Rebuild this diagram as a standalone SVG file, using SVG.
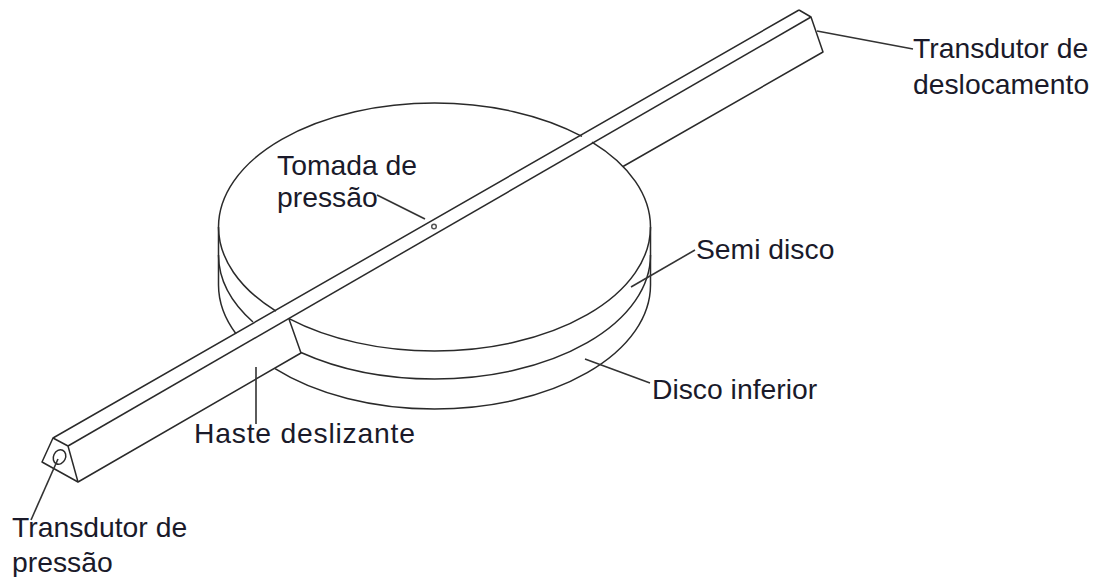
<svg xmlns="http://www.w3.org/2000/svg" width="1097" height="577" viewBox="0 0 1097 577">
<style>
.l{fill:none;stroke:#2a2a2a;stroke-width:1.5;stroke-linejoin:round}
.c{fill:none;stroke:#333;stroke-width:1.6}
text{font-family:"Liberation Sans",Arial,sans-serif;font-size:28.3px;fill:#1a1a2a}
</style>
<rect width="1097" height="577" fill="#fff"/>
<g id="semi-disco">
<path class="l" d="M276 311.200A216 124 0 0 1 218.500 227A216 124 0 0 1 434.500 103A216 124 0 0 1 582 136.400"/>
<path class="l" d="M592 142.100A216 124 0 0 1 650.500 227A216 124 0 0 1 434.500 351A216 124 0 0 1 289 318.600"/>
<path class="l" d="M253 322A216 124 0 0 1 218.500 255"/>
<path class="l" d="M301 352.500A216 124 0 0 0 434.500 379A216 124 0 0 0 650.500 255"/>
</g>
<g id="disco-inferior">
<path class="l" d="M218.500 227V285A216 124 0 0 0 236 333.800"/>
<path class="l" d="M650.500 227V285A216 124 0 0 1 434.500 409A216 124 0 0 1 275 368.600"/>
</g>
<g id="haste">
<path class="l" d="M799 10L53 438L42 462L78 482L301 353L289 319"/>
<path class="l" d="M799 10L811 17L823 52L623 166.500"/>
<path class="l" d="M811 17L68 446"/>
<path class="l" d="M53 438L68 446L78 482"/>
<ellipse class="l" cx="59.500" cy="457" rx="6" ry="7.500" transform="rotate(25 59.500 457)"/>
<circle cx="434" cy="226.500" r="2.300" fill="#fff" stroke="#555" stroke-width="1.500"/>
</g>
<g id="connectors">
<path class="c" d="M817 31L913 49"/>
<path class="c" d="M377 195L425 219"/>
<path class="c" d="M631 287L695 250"/>
<path class="c" d="M585 359L650 383"/>
<path class="c" d="M256 367V424"/>
<path class="c" d="M58 459L31 520"/>
</g>
<g id="labels">
<text x="913" y="58">Transdutor de</text>
<text x="913" y="94">deslocamento</text>
<text x="277" y="175">Tomada de</text>
<text x="277" y="207">pressão</text>
<text x="696" y="259">Semi disco</text>
<text x="652" y="399">Disco inferior</text>
<text x="194" y="443" textLength="221">Haste deslizante</text>
<text x="12" y="537">Transdutor de</text>
<text x="12" y="572">pressão</text>
</g>
</svg>
